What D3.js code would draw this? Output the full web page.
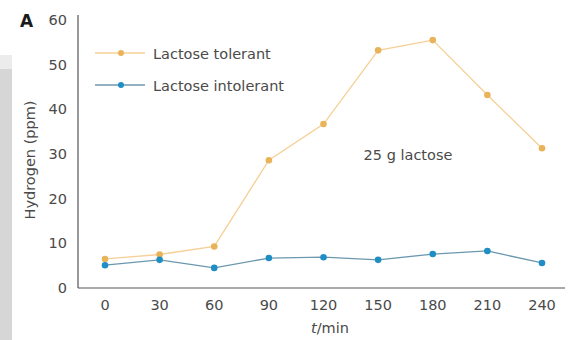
<!DOCTYPE html>
<html><head><meta charset="utf-8">
<script src="https://cdn.jsdelivr.net/npm/d3@7"></script>
<style>body{margin:0;background:#fff}svg{display:block}text{font-family:"DejaVu Sans",Verdana,sans-serif}</style>
</head><body><svg id="c" width="575" height="340"></svg>
<script>
const times=[0,30,60,90,120,150,180,210,240];
const tolerant=[6.5,7.5,9.3,28.6,36.7,53.2,55.5,43.2,31.3];
const intolerant=[5.1,6.3,4.5,6.7,6.9,6.3,7.6,8.3,5.6];
const yTicks=[0,10,20,30,40,50,60];
const seriesNames=["Lactose tolerant","Lactose intolerant"];

const svg=d3.select("#c");
svg.append("rect").attr("x",0).attr("y",55).attr("width",12).attr("height",14).attr("fill","#ececec");
svg.append("rect").attr("x",0).attr("y",69).attr("width",12).attr("height",271).attr("fill","#d6d6d6");

const x=d3.scaleLinear().domain([0,240]).range([105,542]);
const y=d3.scaleLinear().domain([0,60]).range([288,20]);
const axisColor="#555", textColor="#4a4a4a", fs=14.5;

const g=svg.append("g");
g.append("line").attr("x1",78).attr("x2",78).attr("y1",15).attr("y2",288).attr("stroke",axisColor).attr("stroke-width",1.2);
g.append("line").attr("x1",78).attr("x2",565).attr("y1",288).attr("y2",288).attr("stroke",axisColor).attr("stroke-width",1.2);

g.selectAll(".yt").data(yTicks).enter().append("text")
 .attr("x",67).attr("y",d=>y(d)+5).attr("text-anchor","end")
 .attr("font-size",fs).attr("fill",textColor).text(d=>d);
g.selectAll(".xt").data(times).enter().append("text")
 .attr("x",d=>x(d)).attr("y",310).attr("text-anchor","middle")
 .attr("font-size",fs).attr("fill",textColor).text(d=>d);

const xl=svg.append("text").attr("x",330).attr("y",333).attr("text-anchor","middle").attr("font-size",fs).attr("fill",textColor);
xl.append("tspan").attr("font-style","italic").text("t");
xl.append("tspan").text("/min");
svg.append("text").attr("transform","translate(35,160) rotate(-90)").attr("text-anchor","middle")
 .attr("font-size",14.5).attr("fill",textColor).text("Hydrogen (ppm)");
svg.append("text").attr("x",20).attr("y",27).attr("font-size",17).attr("font-weight","bold").attr("fill","#1a1a1a").text("A");
svg.append("text").attr("x",408).attr("y",160).attr("text-anchor","middle").attr("font-size",fs).attr("fill",textColor).text("25 g lactose");

const series=[
 {name:seriesNames[0],vals:tolerant,line:"#f6cf96",dot:"#e9b35a"},
 {name:seriesNames[1],vals:intolerant,line:"#6b98ae",dot:"#1f8ec4"}
];
const line=d3.line().x((d,i)=>x(times[i])).y(d=>y(d));
series.forEach((s,k)=>{
 svg.append("path").attr("d",line(s.vals)).attr("fill","none").attr("stroke",s.line).attr("stroke-width",1.3);
 svg.selectAll(".d"+k).data(s.vals).enter().append("circle")
  .attr("cx",(d,i)=>x(times[i])).attr("cy",d=>y(d)).attr("r",3.3).attr("fill",s.dot);
 const ly=53+k*32;
 svg.append("line").attr("x1",95).attr("x2",145).attr("y1",ly).attr("y2",ly).attr("stroke",s.line).attr("stroke-width",1.3);
 svg.append("circle").attr("cx",121).attr("cy",ly).attr("r",3).attr("fill",s.dot);
 svg.append("text").attr("x",153).attr("y",ly+6).attr("font-size",fs).attr("fill",textColor).text(s.name);
});
</script></body></html>
